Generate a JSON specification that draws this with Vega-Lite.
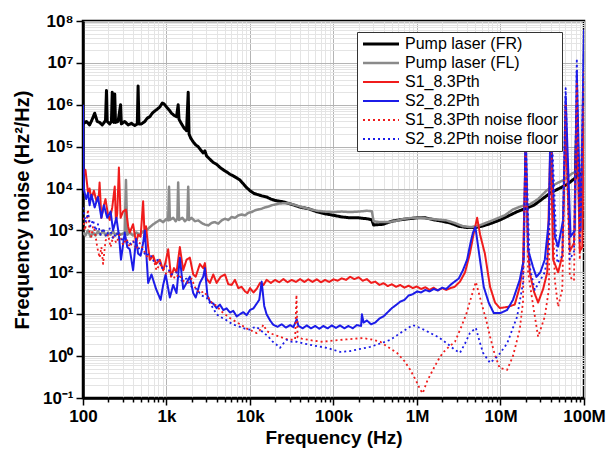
{
"$schema":"https://vega.github.io/schema/vega-lite/v6.json",
"width":501,"height":377,
"autosize":{"type":"none"},
"padding":{"left":83,"top":21,"right":24,"bottom":57},
"background":"white",
"config":{
 "view":{"stroke":"#000","strokeWidth":2.5},
 "font":"Liberation Sans",
 "legend":{"orient":"none","legendX":274,"legendY":11,"fillColor":"#fff","strokeColor":"#333","padding":4,"labelFont":"Liberation Sans","labelFontSize":16,"labelColor":"#000","symbolType":"M-1,0H5","symbolSize":144,"labelLimit":160,"rowPadding":3,"labelOffset":28}
},
"datasets":{"d":[
{"s":"Pump laser (FR)","f":100,"v":3.5e5},{"s":"Pump laser (FR)","f":110,"v":4.0e5},{"s":"Pump laser (FR)","f":120,"v":3.3e5},{"s":"Pump laser (FR)","f":129,"v":4.5e5},{"s":"Pump laser (FR)","f":138,"v":6.3e5},{"s":"Pump laser (FR)","f":148,"v":4.0e5},{"s":"Pump laser (FR)","f":158,"v":3.8e5},{"s":"Pump laser (FR)","f":170,"v":3.3e5},{"s":"Pump laser (FR)","f":186,"v":4.2e5},{"s":"Pump laser (FR)","f":191,"v":2.2e6},{"s":"Pump laser (FR)","f":195,"v":4.0e5},{"s":"Pump laser (FR)","f":209,"v":3.5e5},{"s":"Pump laser (FR)","f":219,"v":4.0e5},{"s":"Pump laser (FR)","f":224,"v":2.0e6},{"s":"Pump laser (FR)","f":229,"v":4.0e5},{"s":"Pump laser (FR)","f":234,"v":3.8e5},{"s":"Pump laser (FR)","f":240,"v":1.8e6},{"s":"Pump laser (FR)","f":245,"v":3.8e5},{"s":"Pump laser (FR)","f":263,"v":4.0e5},{"s":"Pump laser (FR)","f":282,"v":1.0e6},{"s":"Pump laser (FR)","f":288,"v":3.5e5},{"s":"Pump laser (FR)","f":316,"v":4.0e5},{"s":"Pump laser (FR)","f":347,"v":3.3e5},{"s":"Pump laser (FR)","f":380,"v":3.6e5},{"s":"Pump laser (FR)","f":417,"v":3.2e5},{"s":"Pump laser (FR)","f":447,"v":3.5e5},{"s":"Pump laser (FR)","f":457,"v":2.8e6},{"s":"Pump laser (FR)","f":468,"v":3.5e5},{"s":"Pump laser (FR)","f":501,"v":3.5e5},{"s":"Pump laser (FR)","f":550,"v":4.0e5},{"s":"Pump laser (FR)","f":589,"v":4.8e5},{"s":"Pump laser (FR)","f":631,"v":5.2e5},{"s":"Pump laser (FR)","f":676,"v":6.3e5},{"s":"Pump laser (FR)","f":724,"v":7.1e5},{"s":"Pump laser (FR)","f":776,"v":7.9e5},{"s":"Pump laser (FR)","f":832,"v":8.9e5},{"s":"Pump laser (FR)","f":891,"v":1.1e6},{"s":"Pump laser (FR)","f":933,"v":1.05e6},{"s":"Pump laser (FR)","f":1000,"v":8.9e5},{"s":"Pump laser (FR)","f":1072,"v":7.6e5},{"s":"Pump laser (FR)","f":1148,"v":6.3e5},{"s":"Pump laser (FR)","f":1230,"v":5.6e5},{"s":"Pump laser (FR)","f":1318,"v":5.2e5},{"s":"Pump laser (FR)","f":1380,"v":1.0e6},{"s":"Pump laser (FR)","f":1413,"v":4.5e5},{"s":"Pump laser (FR)","f":1514,"v":3.5e5},{"s":"Pump laser (FR)","f":1622,"v":2.8e5},{"s":"Pump laser (FR)","f":1738,"v":2.4e5},{"s":"Pump laser (FR)","f":1820,"v":2.0e6},{"s":"Pump laser (FR)","f":1862,"v":2.0e5},{"s":"Pump laser (FR)","f":1950,"v":1.6e5},{"s":"Pump laser (FR)","f":2089,"v":1.3e5},{"s":"Pump laser (FR)","f":2239,"v":1.1e5},{"s":"Pump laser (FR)","f":2399,"v":1.0e5},{"s":"Pump laser (FR)","f":2570,"v":8.3e4},{"s":"Pump laser (FR)","f":2754,"v":7.1e4},{"s":"Pump laser (FR)","f":2884,"v":7.9e4},{"s":"Pump laser (FR)","f":3020,"v":6.0e4},{"s":"Pump laser (FR)","f":3311,"v":5.0e4},{"s":"Pump laser (FR)","f":3631,"v":4.2e4},{"s":"Pump laser (FR)","f":3981,"v":3.8e4},{"s":"Pump laser (FR)","f":4365,"v":3.2e4},{"s":"Pump laser (FR)","f":4786,"v":2.8e4},{"s":"Pump laser (FR)","f":5248,"v":2.5e4},{"s":"Pump laser (FR)","f":5754,"v":2.2e4},{"s":"Pump laser (FR)","f":6310,"v":2.0e4},{"s":"Pump laser (FR)","f":6918,"v":1.8e4},{"s":"Pump laser (FR)","f":7586,"v":1.6e4},{"s":"Pump laser (FR)","f":8318,"v":1.3e4},{"s":"Pump laser (FR)","f":9120,"v":1.05e4},{"s":"Pump laser (FR)","f":1e4,"v":8900},{"s":"Pump laser (FR)","f":1.12e4,"v":7600},{"s":"Pump laser (FR)","f":1.26e4,"v":7100},{"s":"Pump laser (FR)","f":1.41e4,"v":6600},{"s":"Pump laser (FR)","f":1.58e4,"v":6300},{"s":"Pump laser (FR)","f":1.78e4,"v":5600},{"s":"Pump laser (FR)","f":2.0e4,"v":5200},{"s":"Pump laser (FR)","f":2.24e4,"v":5000},{"s":"Pump laser (FR)","f":2.51e4,"v":4800},{"s":"Pump laser (FR)","f":3.16e4,"v":4200},{"s":"Pump laser (FR)","f":3.98e4,"v":3600},{"s":"Pump laser (FR)","f":5.0e4,"v":3300},{"s":"Pump laser (FR)","f":6.3e4,"v":2800},{"s":"Pump laser (FR)","f":7.9e4,"v":2500},{"s":"Pump laser (FR)","f":1e5,"v":2300},{"s":"Pump laser (FR)","f":1.26e5,"v":2100},{"s":"Pump laser (FR)","f":1.58e5,"v":2000},{"s":"Pump laser (FR)","f":2.0e5,"v":2000},{"s":"Pump laser (FR)","f":2.51e5,"v":1900},{"s":"Pump laser (FR)","f":2.88e5,"v":1800},{"s":"Pump laser (FR)","f":3.02e5,"v":1350},{"s":"Pump laser (FR)","f":3.89e5,"v":1400},{"s":"Pump laser (FR)","f":5.0e5,"v":1660},{"s":"Pump laser (FR)","f":6.3e5,"v":1800},{"s":"Pump laser (FR)","f":7.9e5,"v":1900},{"s":"Pump laser (FR)","f":1e6,"v":2000},{"s":"Pump laser (FR)","f":1.26e6,"v":2000},{"s":"Pump laser (FR)","f":1.58e6,"v":1800},{"s":"Pump laser (FR)","f":2.0e6,"v":1660},{"s":"Pump laser (FR)","f":2.51e6,"v":1500},{"s":"Pump laser (FR)","f":3.16e6,"v":1260},{"s":"Pump laser (FR)","f":3.98e6,"v":1170},{"s":"Pump laser (FR)","f":5.0e6,"v":1170},{"s":"Pump laser (FR)","f":6.3e6,"v":1300},{"s":"Pump laser (FR)","f":7.9e6,"v":1500},{"s":"Pump laser (FR)","f":1e7,"v":1800},{"s":"Pump laser (FR)","f":1.58e7,"v":2800},{"s":"Pump laser (FR)","f":2.51e7,"v":4000},{"s":"Pump laser (FR)","f":3.98e7,"v":7900},{"s":"Pump laser (FR)","f":6.3e7,"v":1.26e4},{"s":"Pump laser (FR)","f":7.9e7,"v":1.8e4},{"s":"Pump laser (FR)","f":8.2e7,"v":5.0e5},{"s":"Pump laser (FR)","f":8.5e7,"v":2.0e4},{"s":"Pump laser (FR)","f":1e8,"v":2.5e4},
{"s":"Pump laser (FL)","f":100,"v":890},{"s":"Pump laser (FL)","f":107,"v":760},{"s":"Pump laser (FL)","f":115,"v":1000},{"s":"Pump laser (FL)","f":123,"v":710},{"s":"Pump laser (FL)","f":132,"v":890},{"s":"Pump laser (FL)","f":141,"v":760},{"s":"Pump laser (FL)","f":151,"v":950},{"s":"Pump laser (FL)","f":162,"v":790},{"s":"Pump laser (FL)","f":174,"v":1000},{"s":"Pump laser (FL)","f":186,"v":760},{"s":"Pump laser (FL)","f":200,"v":890},{"s":"Pump laser (FL)","f":214,"v":790},{"s":"Pump laser (FL)","f":229,"v":950},{"s":"Pump laser (FL)","f":245,"v":760},{"s":"Pump laser (FL)","f":263,"v":890},{"s":"Pump laser (FL)","f":282,"v":790},{"s":"Pump laser (FL)","f":316,"v":890},{"s":"Pump laser (FL)","f":327,"v":1.6e4},{"s":"Pump laser (FL)","f":339,"v":790},{"s":"Pump laser (FL)","f":363,"v":890},{"s":"Pump laser (FL)","f":398,"v":760},{"s":"Pump laser (FL)","f":437,"v":890},{"s":"Pump laser (FL)","f":479,"v":790},{"s":"Pump laser (FL)","f":525,"v":950},{"s":"Pump laser (FL)","f":575,"v":1000},{"s":"Pump laser (FL)","f":631,"v":1200},{"s":"Pump laser (FL)","f":692,"v":1400},{"s":"Pump laser (FL)","f":759,"v":1580},{"s":"Pump laser (FL)","f":832,"v":1780},{"s":"Pump laser (FL)","f":912,"v":1580},{"s":"Pump laser (FL)","f":1000,"v":1900},{"s":"Pump laser (FL)","f":1047,"v":1740},{"s":"Pump laser (FL)","f":1072,"v":1.1e4},{"s":"Pump laser (FL)","f":1096,"v":1780},{"s":"Pump laser (FL)","f":1202,"v":2000},{"s":"Pump laser (FL)","f":1288,"v":1660},{"s":"Pump laser (FL)","f":1349,"v":1900},{"s":"Pump laser (FL)","f":1380,"v":1.4e4},{"s":"Pump laser (FL)","f":1413,"v":1780},{"s":"Pump laser (FL)","f":1549,"v":2000},{"s":"Pump laser (FL)","f":1660,"v":1660},{"s":"Pump laser (FL)","f":1778,"v":1860},{"s":"Pump laser (FL)","f":1820,"v":1.1e4},{"s":"Pump laser (FL)","f":1862,"v":1780},{"s":"Pump laser (FL)","f":1995,"v":2000},{"s":"Pump laser (FL)","f":2188,"v":1660},{"s":"Pump laser (FL)","f":2399,"v":1740},{"s":"Pump laser (FL)","f":2630,"v":1510},{"s":"Pump laser (FL)","f":2884,"v":1380},{"s":"Pump laser (FL)","f":3162,"v":1320},{"s":"Pump laser (FL)","f":3467,"v":1510},{"s":"Pump laser (FL)","f":3802,"v":1580},{"s":"Pump laser (FL)","f":4169,"v":1450},{"s":"Pump laser (FL)","f":4571,"v":1740},{"s":"Pump laser (FL)","f":5012,"v":1900},{"s":"Pump laser (FL)","f":5495,"v":1780},{"s":"Pump laser (FL)","f":6026,"v":2090},{"s":"Pump laser (FL)","f":6607,"v":2000},{"s":"Pump laser (FL)","f":7244,"v":2290},{"s":"Pump laser (FL)","f":7943,"v":2400},{"s":"Pump laser (FL)","f":8710,"v":2290},{"s":"Pump laser (FL)","f":9550,"v":2630},{"s":"Pump laser (FL)","f":1.05e4,"v":2750},{"s":"Pump laser (FL)","f":1.15e4,"v":3020},{"s":"Pump laser (FL)","f":1.26e4,"v":3160},{"s":"Pump laser (FL)","f":1.38e4,"v":3310},{"s":"Pump laser (FL)","f":1.51e4,"v":3550},{"s":"Pump laser (FL)","f":1.66e4,"v":3720},{"s":"Pump laser (FL)","f":1.82e4,"v":3980},{"s":"Pump laser (FL)","f":2.0e4,"v":4170},{"s":"Pump laser (FL)","f":2.24e4,"v":4370},{"s":"Pump laser (FL)","f":2.51e4,"v":4470},{"s":"Pump laser (FL)","f":2.82e4,"v":4470},{"s":"Pump laser (FL)","f":3.16e4,"v":4270},{"s":"Pump laser (FL)","f":3.55e4,"v":3980},{"s":"Pump laser (FL)","f":3.98e4,"v":3720},{"s":"Pump laser (FL)","f":5.0e4,"v":3310},{"s":"Pump laser (FL)","f":6.3e4,"v":2950},{"s":"Pump laser (FL)","f":7.9e4,"v":2820},{"s":"Pump laser (FL)","f":1e5,"v":2750},{"s":"Pump laser (FL)","f":1.26e5,"v":2820},{"s":"Pump laser (FL)","f":1.58e5,"v":2750},{"s":"Pump laser (FL)","f":2.0e5,"v":2820},{"s":"Pump laser (FL)","f":2.51e5,"v":2950},{"s":"Pump laser (FL)","f":2.88e5,"v":2880},{"s":"Pump laser (FL)","f":3.02e5,"v":1660},{"s":"Pump laser (FL)","f":3.55e5,"v":1580},{"s":"Pump laser (FL)","f":4.47e5,"v":1580},{"s":"Pump laser (FL)","f":5.62e5,"v":1700},{"s":"Pump laser (FL)","f":7.08e5,"v":1900},{"s":"Pump laser (FL)","f":8.9e5,"v":2000},{"s":"Pump laser (FL)","f":1.12e6,"v":2000},{"s":"Pump laser (FL)","f":1.41e6,"v":1900},{"s":"Pump laser (FL)","f":1.78e6,"v":1820},{"s":"Pump laser (FL)","f":2.24e6,"v":1740},{"s":"Pump laser (FL)","f":2.82e6,"v":1510},{"s":"Pump laser (FL)","f":3.55e6,"v":1260},{"s":"Pump laser (FL)","f":4.47e6,"v":1200},{"s":"Pump laser (FL)","f":5.62e6,"v":1320},{"s":"Pump laser (FL)","f":7.08e6,"v":1580},{"s":"Pump laser (FL)","f":8.9e6,"v":1900},{"s":"Pump laser (FL)","f":1.12e7,"v":2290},{"s":"Pump laser (FL)","f":1.41e7,"v":3160},{"s":"Pump laser (FL)","f":1.78e7,"v":3800},{"s":"Pump laser (FL)","f":2.24e7,"v":4170},{"s":"Pump laser (FL)","f":2.82e7,"v":5620},{"s":"Pump laser (FL)","f":3.55e7,"v":8900},{"s":"Pump laser (FL)","f":4.47e7,"v":1.26e4},{"s":"Pump laser (FL)","f":5.62e7,"v":1.58e4},{"s":"Pump laser (FL)","f":7.08e7,"v":2.24e4},{"s":"Pump laser (FL)","f":8.9e7,"v":2.82e4},{"s":"Pump laser (FL)","f":1e8,"v":3.16e4},
{"s":"S1_8.3Pth","f":100,"v":2.0e4},{"s":"S1_8.3Pth","f":107,"v":2.8e4},{"s":"S1_8.3Pth","f":115,"v":7900},{"s":"S1_8.3Pth","f":120,"v":1.0e4},{"s":"S1_8.3Pth","f":126,"v":5600},{"s":"S1_8.3Pth","f":135,"v":8900},{"s":"S1_8.3Pth","f":145,"v":5000},{"s":"S1_8.3Pth","f":155,"v":7100},{"s":"S1_8.3Pth","f":158,"v":1.4e4},{"s":"S1_8.3Pth","f":166,"v":2000},{"s":"S1_8.3Pth","f":178,"v":4000},{"s":"S1_8.3Pth","f":186,"v":5600},{"s":"S1_8.3Pth","f":200,"v":2240},{"s":"S1_8.3Pth","f":209,"v":1780},{"s":"S1_8.3Pth","f":224,"v":3550},{"s":"S1_8.3Pth","f":240,"v":1.12e4},{"s":"S1_8.3Pth","f":248,"v":1580},{"s":"S1_8.3Pth","f":257,"v":2510},{"s":"S1_8.3Pth","f":269,"v":3.16e4},{"s":"S1_8.3Pth","f":282,"v":2000},{"s":"S1_8.3Pth","f":302,"v":2820},{"s":"S1_8.3Pth","f":327,"v":3160},{"s":"S1_8.3Pth","f":347,"v":1260},{"s":"S1_8.3Pth","f":363,"v":890},{"s":"S1_8.3Pth","f":398,"v":1410},{"s":"S1_8.3Pth","f":432,"v":500},{"s":"S1_8.3Pth","f":457,"v":790},{"s":"S1_8.3Pth","f":490,"v":710},{"s":"S1_8.3Pth","f":525,"v":5000},{"s":"S1_8.3Pth","f":550,"v":560},{"s":"S1_8.3Pth","f":569,"v":1260},{"s":"S1_8.3Pth","f":603,"v":400},{"s":"S1_8.3Pth","f":631,"v":200},{"s":"S1_8.3Pth","f":692,"v":250},{"s":"S1_8.3Pth","f":750,"v":158},{"s":"S1_8.3Pth","f":832,"v":200},{"s":"S1_8.3Pth","f":912,"v":112},{"s":"S1_8.3Pth","f":977,"v":178},{"s":"S1_8.3Pth","f":1047,"v":355},{"s":"S1_8.3Pth","f":1135,"v":79},{"s":"S1_8.3Pth","f":1230,"v":126},{"s":"S1_8.3Pth","f":1318,"v":100},{"s":"S1_8.3Pth","f":1445,"v":400},{"s":"S1_8.3Pth","f":1585,"v":112},{"s":"S1_8.3Pth","f":1738,"v":200},{"s":"S1_8.3Pth","f":1905,"v":224},{"s":"S1_8.3Pth","f":2089,"v":89},{"s":"S1_8.3Pth","f":2239,"v":79},{"s":"S1_8.3Pth","f":2512,"v":158},{"s":"S1_8.3Pth","f":2754,"v":126},{"s":"S1_8.3Pth","f":2884,"v":166},{"s":"S1_8.3Pth","f":3020,"v":71},{"s":"S1_8.3Pth","f":3311,"v":56},{"s":"S1_8.3Pth","f":3631,"v":89},{"s":"S1_8.3Pth","f":3981,"v":56},{"s":"S1_8.3Pth","f":4467,"v":79},{"s":"S1_8.3Pth","f":5012,"v":89},{"s":"S1_8.3Pth","f":5495,"v":52},{"s":"S1_8.3Pth","f":6026,"v":50},{"s":"S1_8.3Pth","f":6607,"v":66},{"s":"S1_8.3Pth","f":7244,"v":42},{"s":"S1_8.3Pth","f":7943,"v":45},{"s":"S1_8.3Pth","f":8710,"v":35},{"s":"S1_8.3Pth","f":9333,"v":32},{"s":"S1_8.3Pth","f":1e4,"v":42},{"s":"S1_8.3Pth","f":1.1e4,"v":33},{"s":"S1_8.3Pth","f":1.2e4,"v":40},{"s":"S1_8.3Pth","f":1.32e4,"v":56},{"s":"S1_8.3Pth","f":1.45e4,"v":50},{"s":"S1_8.3Pth","f":1.58e4,"v":66},{"s":"S1_8.3Pth","f":1.78e4,"v":56},{"s":"S1_8.3Pth","f":2.0e4,"v":66},{"s":"S1_8.3Pth","f":2.24e4,"v":58},{"s":"S1_8.3Pth","f":2.51e4,"v":69},{"s":"S1_8.3Pth","f":2.82e4,"v":58},{"s":"S1_8.3Pth","f":3.16e4,"v":66},{"s":"S1_8.3Pth","f":3.55e4,"v":59},{"s":"S1_8.3Pth","f":3.98e4,"v":69},{"s":"S1_8.3Pth","f":4.47e4,"v":59},{"s":"S1_8.3Pth","f":5.0e4,"v":68},{"s":"S1_8.3Pth","f":5.62e4,"v":59},{"s":"S1_8.3Pth","f":6.3e4,"v":68},{"s":"S1_8.3Pth","f":7.08e4,"v":58},{"s":"S1_8.3Pth","f":7.9e4,"v":66},{"s":"S1_8.3Pth","f":8.9e4,"v":59},{"s":"S1_8.3Pth","f":1e5,"v":68},{"s":"S1_8.3Pth","f":1.12e5,"v":63},{"s":"S1_8.3Pth","f":1.26e5,"v":72},{"s":"S1_8.3Pth","f":1.41e5,"v":66},{"s":"S1_8.3Pth","f":1.58e5,"v":78},{"s":"S1_8.3Pth","f":1.78e5,"v":69},{"s":"S1_8.3Pth","f":2.0e5,"v":76},{"s":"S1_8.3Pth","f":2.24e5,"v":63},{"s":"S1_8.3Pth","f":2.51e5,"v":69},{"s":"S1_8.3Pth","f":2.82e5,"v":56},{"s":"S1_8.3Pth","f":3.16e5,"v":60},{"s":"S1_8.3Pth","f":3.55e5,"v":50},{"s":"S1_8.3Pth","f":3.98e5,"v":55},{"s":"S1_8.3Pth","f":4.47e5,"v":47},{"s":"S1_8.3Pth","f":5.0e5,"v":52},{"s":"S1_8.3Pth","f":5.62e5,"v":45},{"s":"S1_8.3Pth","f":6.3e5,"v":50},{"s":"S1_8.3Pth","f":7.08e5,"v":43},{"s":"S1_8.3Pth","f":7.9e5,"v":48},{"s":"S1_8.3Pth","f":8.9e5,"v":42},{"s":"S1_8.3Pth","f":1e6,"v":46},{"s":"S1_8.3Pth","f":1.12e6,"v":40},{"s":"S1_8.3Pth","f":1.26e6,"v":44},{"s":"S1_8.3Pth","f":1.41e6,"v":38},{"s":"S1_8.3Pth","f":1.58e6,"v":43},{"s":"S1_8.3Pth","f":1.78e6,"v":37},{"s":"S1_8.3Pth","f":2.0e6,"v":42},{"s":"S1_8.3Pth","f":2.24e6,"v":38},{"s":"S1_8.3Pth","f":2.51e6,"v":42},{"s":"S1_8.3Pth","f":2.82e6,"v":45},{"s":"S1_8.3Pth","f":3.27e6,"v":60},{"s":"S1_8.3Pth","f":3.76e6,"v":100},{"s":"S1_8.3Pth","f":4.3e6,"v":280},{"s":"S1_8.3Pth","f":4.8e6,"v":890},{"s":"S1_8.3Pth","f":5.25e6,"v":2000},{"s":"S1_8.3Pth","f":5.7e6,"v":790},{"s":"S1_8.3Pth","f":6.5e6,"v":280},{"s":"S1_8.3Pth","f":7.5e6,"v":45},{"s":"S1_8.3Pth","f":8.6e6,"v":19},{"s":"S1_8.3Pth","f":9.8e6,"v":14},{"s":"S1_8.3Pth","f":1.23e7,"v":15},{"s":"S1_8.3Pth","f":1.48e7,"v":17},{"s":"S1_8.3Pth","f":1.7e7,"v":45},{"s":"S1_8.3Pth","f":1.86e7,"v":160},{"s":"S1_8.3Pth","f":2.0e7,"v":1e5},{"s":"S1_8.3Pth","f":2.14e7,"v":400},{"s":"S1_8.3Pth","f":2.24e7,"v":100},{"s":"S1_8.3Pth","f":2.51e7,"v":35},{"s":"S1_8.3Pth","f":2.82e7,"v":19},{"s":"S1_8.3Pth","f":3.24e7,"v":40},{"s":"S1_8.3Pth","f":3.63e7,"v":100},{"s":"S1_8.3Pth","f":3.98e7,"v":2e5},{"s":"S1_8.3Pth","f":4.27e7,"v":200},{"s":"S1_8.3Pth","f":4.9e7,"v":100},{"s":"S1_8.3Pth","f":5.5e7,"v":250},{"s":"S1_8.3Pth","f":6.03e7,"v":3.2e5},{"s":"S1_8.3Pth","f":6.76e7,"v":320},{"s":"S1_8.3Pth","f":7.59e7,"v":500},{"s":"S1_8.3Pth","f":8.2e7,"v":7.9e5},{"s":"S1_8.3Pth","f":8.9e7,"v":320},{"s":"S1_8.3Pth","f":9.55e7,"v":400},{"s":"S1_8.3Pth","f":1e8,"v":1e6},
{"s":"S2_8.2Pth","f":100,"v":1e6},{"s":"S2_8.2Pth","f":102,"v":1e4},{"s":"S2_8.2Pth","f":109,"v":5600},{"s":"S2_8.2Pth","f":115,"v":7900},{"s":"S2_8.2Pth","f":120,"v":4000},{"s":"S2_8.2Pth","f":126,"v":7100},{"s":"S2_8.2Pth","f":138,"v":3550},{"s":"S2_8.2Pth","f":151,"v":6300},{"s":"S2_8.2Pth","f":166,"v":2000},{"s":"S2_8.2Pth","f":178,"v":4000},{"s":"S2_8.2Pth","f":195,"v":2000},{"s":"S2_8.2Pth","f":214,"v":2820},{"s":"S2_8.2Pth","f":229,"v":1000},{"s":"S2_8.2Pth","f":251,"v":2000},{"s":"S2_8.2Pth","f":269,"v":790},{"s":"S2_8.2Pth","f":285,"v":200},{"s":"S2_8.2Pth","f":316,"v":890},{"s":"S2_8.2Pth","f":339,"v":400},{"s":"S2_8.2Pth","f":363,"v":355},{"s":"S2_8.2Pth","f":398,"v":112},{"s":"S2_8.2Pth","f":432,"v":630},{"s":"S2_8.2Pth","f":457,"v":280},{"s":"S2_8.2Pth","f":490,"v":250},{"s":"S2_8.2Pth","f":525,"v":500},{"s":"S2_8.2Pth","f":550,"v":1000},{"s":"S2_8.2Pth","f":603,"v":56},{"s":"S2_8.2Pth","f":661,"v":89},{"s":"S2_8.2Pth","f":750,"v":40},{"s":"S2_8.2Pth","f":851,"v":22},{"s":"S2_8.2Pth","f":912,"v":50},{"s":"S2_8.2Pth","f":977,"v":89},{"s":"S2_8.2Pth","f":1096,"v":25},{"s":"S2_8.2Pth","f":1202,"v":50},{"s":"S2_8.2Pth","f":1318,"v":32},{"s":"S2_8.2Pth","f":1445,"v":224},{"s":"S2_8.2Pth","f":1585,"v":40},{"s":"S2_8.2Pth","f":1738,"v":56},{"s":"S2_8.2Pth","f":1905,"v":79},{"s":"S2_8.2Pth","f":2089,"v":32},{"s":"S2_8.2Pth","f":2239,"v":25},{"s":"S2_8.2Pth","f":2512,"v":56},{"s":"S2_8.2Pth","f":2754,"v":79},{"s":"S2_8.2Pth","f":2884,"v":126},{"s":"S2_8.2Pth","f":3090,"v":28},{"s":"S2_8.2Pth","f":3311,"v":20},{"s":"S2_8.2Pth","f":3631,"v":18},{"s":"S2_8.2Pth","f":3981,"v":14},{"s":"S2_8.2Pth","f":4365,"v":17},{"s":"S2_8.2Pth","f":4786,"v":12.6},{"s":"S2_8.2Pth","f":5248,"v":13.8},{"s":"S2_8.2Pth","f":5754,"v":11},{"s":"S2_8.2Pth","f":6310,"v":12},{"s":"S2_8.2Pth","f":6918,"v":8.9},{"s":"S2_8.2Pth","f":7586,"v":10},{"s":"S2_8.2Pth","f":8318,"v":11.2},{"s":"S2_8.2Pth","f":9120,"v":9.5},{"s":"S2_8.2Pth","f":1e4,"v":12.6},{"s":"S2_8.2Pth","f":1.1e4,"v":13.8},{"s":"S2_8.2Pth","f":1.2e4,"v":17.8},{"s":"S2_8.2Pth","f":1.29e4,"v":22},{"s":"S2_8.2Pth","f":1.38e4,"v":60},{"s":"S2_8.2Pth","f":1.48e4,"v":15.8},{"s":"S2_8.2Pth","f":1.58e4,"v":10},{"s":"S2_8.2Pth","f":1.74e4,"v":7.1},{"s":"S2_8.2Pth","f":1.9e4,"v":5.6},{"s":"S2_8.2Pth","f":2.14e4,"v":5.0},{"s":"S2_8.2Pth","f":2.4e4,"v":5.75},{"s":"S2_8.2Pth","f":2.69e4,"v":4.8},{"s":"S2_8.2Pth","f":3.02e4,"v":5.5},{"s":"S2_8.2Pth","f":3.31e4,"v":4.9},{"s":"S2_8.2Pth","f":3.63e4,"v":7.6},{"s":"S2_8.2Pth","f":3.8e4,"v":5.25},{"s":"S2_8.2Pth","f":4.27e4,"v":4.6},{"s":"S2_8.2Pth","f":4.79e4,"v":5.4},{"s":"S2_8.2Pth","f":5.37e4,"v":4.6},{"s":"S2_8.2Pth","f":6.03e4,"v":5.25},{"s":"S2_8.2Pth","f":6.76e4,"v":4.5},{"s":"S2_8.2Pth","f":7.59e4,"v":5.25},{"s":"S2_8.2Pth","f":8.51e4,"v":4.6},{"s":"S2_8.2Pth","f":9.55e4,"v":5.4},{"s":"S2_8.2Pth","f":1.07e5,"v":4.7},{"s":"S2_8.2Pth","f":1.2e5,"v":5.4},{"s":"S2_8.2Pth","f":1.35e5,"v":4.6},{"s":"S2_8.2Pth","f":1.51e5,"v":5.25},{"s":"S2_8.2Pth","f":1.7e5,"v":4.6},{"s":"S2_8.2Pth","f":1.9e5,"v":5.5},{"s":"S2_8.2Pth","f":2.14e5,"v":5.25},{"s":"S2_8.2Pth","f":2.19e5,"v":10},{"s":"S2_8.2Pth","f":2.29e5,"v":6.3},{"s":"S2_8.2Pth","f":2.51e5,"v":7.1},{"s":"S2_8.2Pth","f":2.82e5,"v":5.75},{"s":"S2_8.2Pth","f":3.16e5,"v":6.3},{"s":"S2_8.2Pth","f":3.55e5,"v":7.9},{"s":"S2_8.2Pth","f":3.98e5,"v":8.9},{"s":"S2_8.2Pth","f":4.47e5,"v":11.2},{"s":"S2_8.2Pth","f":5.0e5,"v":14},{"s":"S2_8.2Pth","f":5.62e5,"v":16.6},{"s":"S2_8.2Pth","f":6.3e5,"v":20},{"s":"S2_8.2Pth","f":7.08e5,"v":22},{"s":"S2_8.2Pth","f":7.94e5,"v":28},{"s":"S2_8.2Pth","f":8.9e5,"v":30},{"s":"S2_8.2Pth","f":1e6,"v":35},{"s":"S2_8.2Pth","f":1.12e6,"v":33},{"s":"S2_8.2Pth","f":1.26e6,"v":38},{"s":"S2_8.2Pth","f":1.41e6,"v":35},{"s":"S2_8.2Pth","f":1.58e6,"v":40},{"s":"S2_8.2Pth","f":1.78e6,"v":37},{"s":"S2_8.2Pth","f":2.0e6,"v":43},{"s":"S2_8.2Pth","f":2.24e6,"v":40},{"s":"S2_8.2Pth","f":2.51e6,"v":50},{"s":"S2_8.2Pth","f":2.82e6,"v":60},{"s":"S2_8.2Pth","f":3.16e6,"v":71},{"s":"S2_8.2Pth","f":3.55e6,"v":112},{"s":"S2_8.2Pth","f":3.98e6,"v":200},{"s":"S2_8.2Pth","f":4.37e6,"v":500},{"s":"S2_8.2Pth","f":4.68e6,"v":890},{"s":"S2_8.2Pth","f":5.0e6,"v":1200},{"s":"S2_8.2Pth","f":5.5e6,"v":316},{"s":"S2_8.2Pth","f":6.3e6,"v":45},{"s":"S2_8.2Pth","f":7.24e6,"v":18.6},{"s":"S2_8.2Pth","f":8.3e6,"v":10.7},{"s":"S2_8.2Pth","f":1e7,"v":10.7},{"s":"S2_8.2Pth","f":1.2e7,"v":12.6},{"s":"S2_8.2Pth","f":1.41e7,"v":22},{"s":"S2_8.2Pth","f":1.7e7,"v":66},{"s":"S2_8.2Pth","f":1.9e7,"v":200},{"s":"S2_8.2Pth","f":2.0e7,"v":3.2e5},{"s":"S2_8.2Pth","f":2.14e7,"v":340},{"s":"S2_8.2Pth","f":2.45e7,"v":135},{"s":"S2_8.2Pth","f":2.69e7,"v":78},{"s":"S2_8.2Pth","f":3.0e7,"v":100},{"s":"S2_8.2Pth","f":3.39e7,"v":200},{"s":"S2_8.2Pth","f":3.8e7,"v":1780},{"s":"S2_8.2Pth","f":3.98e7,"v":6.3e5},{"s":"S2_8.2Pth","f":4.47e7,"v":710},{"s":"S2_8.2Pth","f":4.9e7,"v":410},{"s":"S2_8.2Pth","f":5.62e7,"v":1780},{"s":"S2_8.2Pth","f":6.03e7,"v":1.6e6},{"s":"S2_8.2Pth","f":6.9e7,"v":710},{"s":"S2_8.2Pth","f":7.76e7,"v":1000},{"s":"S2_8.2Pth","f":8.2e7,"v":6.3e6},{"s":"S2_8.2Pth","f":9.1e7,"v":1000},{"s":"S2_8.2Pth","f":1e8,"v":6.3e7},
{"s":"S1_8.3Pth noise floor","f":100,"v":2000},{"s":"S1_8.3Pth noise floor","f":105,"v":1000},{"s":"S1_8.3Pth noise floor","f":109,"v":1410},{"s":"S1_8.3Pth noise floor","f":115,"v":3160},{"s":"S1_8.3Pth noise floor","f":120,"v":890},{"s":"S1_8.3Pth noise floor","f":126,"v":710},{"s":"S1_8.3Pth noise floor","f":132,"v":1260},{"s":"S1_8.3Pth noise floor","f":138,"v":1000},{"s":"S1_8.3Pth noise floor","f":148,"v":400},{"s":"S1_8.3Pth noise floor","f":158,"v":224},{"s":"S1_8.3Pth noise floor","f":166,"v":400},{"s":"S1_8.3Pth noise floor","f":174,"v":158},{"s":"S1_8.3Pth noise floor","f":186,"v":560},{"s":"S1_8.3Pth noise floor","f":200,"v":790},{"s":"S1_8.3Pth noise floor","f":214,"v":400},{"s":"S1_8.3Pth noise floor","f":229,"v":710},{"s":"S1_8.3Pth noise floor","f":251,"v":500},{"s":"S1_8.3Pth noise floor","f":275,"v":790},{"s":"S1_8.3Pth noise floor","f":302,"v":450},{"s":"S1_8.3Pth noise floor","f":331,"v":630},{"s":"S1_8.3Pth noise floor","f":363,"v":400},{"s":"S1_8.3Pth noise floor","f":398,"v":560},{"s":"S1_8.3Pth noise floor","f":437,"v":355},{"s":"S1_8.3Pth noise floor","f":479,"v":500},{"s":"S1_8.3Pth noise floor","f":525,"v":355},{"s":"S1_8.3Pth noise floor","f":575,"v":251},{"s":"S1_8.3Pth noise floor","f":631,"v":200},{"s":"S1_8.3Pth noise floor","f":692,"v":224},{"s":"S1_8.3Pth noise floor","f":759,"v":112},{"s":"S1_8.3Pth noise floor","f":832,"v":158},{"s":"S1_8.3Pth noise floor","f":912,"v":126},{"s":"S1_8.3Pth noise floor","f":1000,"v":89},{"s":"S1_8.3Pth noise floor","f":1122,"v":112},{"s":"S1_8.3Pth noise floor","f":1259,"v":71},{"s":"S1_8.3Pth noise floor","f":1413,"v":89},{"s":"S1_8.3Pth noise floor","f":1585,"v":63},{"s":"S1_8.3Pth noise floor","f":1778,"v":56},{"s":"S1_8.3Pth noise floor","f":1995,"v":71},{"s":"S1_8.3Pth noise floor","f":2239,"v":40},{"s":"S1_8.3Pth noise floor","f":2512,"v":32},{"s":"S1_8.3Pth noise floor","f":2818,"v":35},{"s":"S1_8.3Pth noise floor","f":3162,"v":25},{"s":"S1_8.3Pth noise floor","f":3548,"v":18},{"s":"S1_8.3Pth noise floor","f":3981,"v":16},{"s":"S1_8.3Pth noise floor","f":4467,"v":12},{"s":"S1_8.3Pth noise floor","f":5012,"v":10},{"s":"S1_8.3Pth noise floor","f":5623,"v":8.3},{"s":"S1_8.3Pth noise floor","f":6310,"v":7.2},{"s":"S1_8.3Pth noise floor","f":7079,"v":6.3},{"s":"S1_8.3Pth noise floor","f":7943,"v":5.5},{"s":"S1_8.3Pth noise floor","f":8913,"v":4.6},{"s":"S1_8.3Pth noise floor","f":1e4,"v":4.3},{"s":"S1_8.3Pth noise floor","f":1.1e4,"v":3.8},{"s":"S1_8.3Pth noise floor","f":1.2e4,"v":3.55},{"s":"S1_8.3Pth noise floor","f":1.32e4,"v":4.2},{"s":"S1_8.3Pth noise floor","f":1.45e4,"v":5.6},{"s":"S1_8.3Pth noise floor","f":1.58e4,"v":4.0},{"s":"S1_8.3Pth noise floor","f":1.74e4,"v":3.55},{"s":"S1_8.3Pth noise floor","f":2.0e4,"v":3.16},{"s":"S1_8.3Pth noise floor","f":2.29e4,"v":2.9},{"s":"S1_8.3Pth noise floor","f":2.63e4,"v":2.6},{"s":"S1_8.3Pth noise floor","f":3.02e4,"v":2.45},{"s":"S1_8.3Pth noise floor","f":3.47e4,"v":2.5},{"s":"S1_8.3Pth noise floor","f":3.6e4,"v":29},{"s":"S1_8.3Pth noise floor","f":3.72e4,"v":2.8},{"s":"S1_8.3Pth noise floor","f":4.17e4,"v":2.6},{"s":"S1_8.3Pth noise floor","f":5.0e4,"v":2.45},{"s":"S1_8.3Pth noise floor","f":6.03e4,"v":2.3},{"s":"S1_8.3Pth noise floor","f":7.41e4,"v":2.2},{"s":"S1_8.3Pth noise floor","f":9.1e4,"v":2.3},{"s":"S1_8.3Pth noise floor","f":1.12e5,"v":2.4},{"s":"S1_8.3Pth noise floor","f":1.41e5,"v":2.5},{"s":"S1_8.3Pth noise floor","f":1.78e5,"v":2.6},{"s":"S1_8.3Pth noise floor","f":2.24e5,"v":2.7},{"s":"S1_8.3Pth noise floor","f":2.82e5,"v":2.5},{"s":"S1_8.3Pth noise floor","f":3.63e5,"v":2.2},{"s":"S1_8.3Pth noise floor","f":4.47e5,"v":1.66},{"s":"S1_8.3Pth noise floor","f":5.75e5,"v":1.2},{"s":"S1_8.3Pth noise floor","f":7.08e5,"v":0.76},{"s":"S1_8.3Pth noise floor","f":8.3e5,"v":0.47},{"s":"S1_8.3Pth noise floor","f":9.55e5,"v":0.28},{"s":"S1_8.3Pth noise floor","f":1.1e6,"v":0.155},{"s":"S1_8.3Pth noise floor","f":1.17e6,"v":0.13},{"s":"S1_8.3Pth noise floor","f":1.32e6,"v":0.25},{"s":"S1_8.3Pth noise floor","f":1.55e6,"v":0.47},{"s":"S1_8.3Pth noise floor","f":1.78e6,"v":0.79},{"s":"S1_8.3Pth noise floor","f":2.04e6,"v":1.2},{"s":"S1_8.3Pth noise floor","f":2.4e6,"v":1.66},{"s":"S1_8.3Pth noise floor","f":2.85e6,"v":2.2},{"s":"S1_8.3Pth noise floor","f":3.39e6,"v":5.0},{"s":"S1_8.3Pth noise floor","f":3.89e6,"v":10},{"s":"S1_8.3Pth noise floor","f":4.3e6,"v":20},{"s":"S1_8.3Pth noise floor","f":5.07e6,"v":59},{"s":"S1_8.3Pth noise floor","f":5.5e6,"v":32},{"s":"S1_8.3Pth noise floor","f":6.03e6,"v":16},{"s":"S1_8.3Pth noise floor","f":6.76e6,"v":7.1},{"s":"S1_8.3Pth noise floor","f":7.5e6,"v":2.9},{"s":"S1_8.3Pth noise floor","f":8.5e6,"v":1.12},{"s":"S1_8.3Pth noise floor","f":9.77e6,"v":0.52},{"s":"S1_8.3Pth noise floor","f":1.2e7,"v":0.47},{"s":"S1_8.3Pth noise floor","f":1.41e7,"v":1.0},{"s":"S1_8.3Pth noise floor","f":1.7e7,"v":4.3},{"s":"S1_8.3Pth noise floor","f":1.86e7,"v":20},{"s":"S1_8.3Pth noise floor","f":2.0e7,"v":1e5},{"s":"S1_8.3Pth noise floor","f":2.14e7,"v":100},{"s":"S1_8.3Pth noise floor","f":2.4e7,"v":22},{"s":"S1_8.3Pth noise floor","f":2.82e7,"v":2.9},{"s":"S1_8.3Pth noise floor","f":3.39e7,"v":8.7},{"s":"S1_8.3Pth noise floor","f":3.8e7,"v":40},{"s":"S1_8.3Pth noise floor","f":3.98e7,"v":4e5},{"s":"S1_8.3Pth noise floor","f":4.47e7,"v":66},{"s":"S1_8.3Pth noise floor","f":4.9e7,"v":15},{"s":"S1_8.3Pth noise floor","f":5.5e7,"v":40},{"s":"S1_8.3Pth noise floor","f":6.03e7,"v":1e6},{"s":"S1_8.3Pth noise floor","f":6.76e7,"v":79},{"s":"S1_8.3Pth noise floor","f":7.59e7,"v":63},{"s":"S1_8.3Pth noise floor","f":8.2e7,"v":3.2e6},{"s":"S1_8.3Pth noise floor","f":8.9e7,"v":200},{"s":"S1_8.3Pth noise floor","f":1e8,"v":6.3e6},
{"s":"S2_8.2Pth noise floor","f":100,"v":3550},{"s":"S2_8.2Pth noise floor","f":107,"v":1580},{"s":"S2_8.2Pth noise floor","f":115,"v":2510},{"s":"S2_8.2Pth noise floor","f":123,"v":1260},{"s":"S2_8.2Pth noise floor","f":132,"v":1780},{"s":"S2_8.2Pth noise floor","f":141,"v":1000},{"s":"S2_8.2Pth noise floor","f":151,"v":1410},{"s":"S2_8.2Pth noise floor","f":162,"v":790},{"s":"S2_8.2Pth noise floor","f":174,"v":1120},{"s":"S2_8.2Pth noise floor","f":191,"v":710},{"s":"S2_8.2Pth noise floor","f":209,"v":1120},{"s":"S2_8.2Pth noise floor","f":229,"v":630},{"s":"S2_8.2Pth noise floor","f":251,"v":890},{"s":"S2_8.2Pth noise floor","f":282,"v":560},{"s":"S2_8.2Pth noise floor","f":316,"v":710},{"s":"S2_8.2Pth noise floor","f":355,"v":450},{"s":"S2_8.2Pth noise floor","f":398,"v":560},{"s":"S2_8.2Pth noise floor","f":447,"v":355},{"s":"S2_8.2Pth noise floor","f":501,"v":400},{"s":"S2_8.2Pth noise floor","f":562,"v":251},{"s":"S2_8.2Pth noise floor","f":631,"v":280},{"s":"S2_8.2Pth noise floor","f":708,"v":178},{"s":"S2_8.2Pth noise floor","f":794,"v":200},{"s":"S2_8.2Pth noise floor","f":891,"v":126},{"s":"S2_8.2Pth noise floor","f":1000,"v":141},{"s":"S2_8.2Pth noise floor","f":1148,"v":89},{"s":"S2_8.2Pth noise floor","f":1318,"v":100},{"s":"S2_8.2Pth noise floor","f":1514,"v":63},{"s":"S2_8.2Pth noise floor","f":1738,"v":71},{"s":"S2_8.2Pth noise floor","f":1995,"v":45},{"s":"S2_8.2Pth noise floor","f":2291,"v":40},{"s":"S2_8.2Pth noise floor","f":2630,"v":28},{"s":"S2_8.2Pth noise floor","f":3020,"v":25},{"s":"S2_8.2Pth noise floor","f":3467,"v":16},{"s":"S2_8.2Pth noise floor","f":3981,"v":10},{"s":"S2_8.2Pth noise floor","f":4365,"v":8.7},{"s":"S2_8.2Pth noise floor","f":5012,"v":7.6},{"s":"S2_8.2Pth noise floor","f":5754,"v":6.3},{"s":"S2_8.2Pth noise floor","f":6607,"v":5.5},{"s":"S2_8.2Pth noise floor","f":7586,"v":5.0},{"s":"S2_8.2Pth noise floor","f":8710,"v":4.5},{"s":"S2_8.2Pth noise floor","f":1e4,"v":4.3},{"s":"S2_8.2Pth noise floor","f":1.1e4,"v":4.8},{"s":"S2_8.2Pth noise floor","f":1.2e4,"v":5.0},{"s":"S2_8.2Pth noise floor","f":1.32e4,"v":4.2},{"s":"S2_8.2Pth noise floor","f":1.48e4,"v":3.55},{"s":"S2_8.2Pth noise floor","f":1.66e4,"v":2.9},{"s":"S2_8.2Pth noise floor","f":1.86e4,"v":2.24},{"s":"S2_8.2Pth noise floor","f":2.09e4,"v":1.86},{"s":"S2_8.2Pth noise floor","f":2.29e4,"v":1.58},{"s":"S2_8.2Pth noise floor","f":2.51e4,"v":2.0},{"s":"S2_8.2Pth noise floor","f":2.75e4,"v":2.45},{"s":"S2_8.2Pth noise floor","f":3.16e4,"v":2.2},{"s":"S2_8.2Pth noise floor","f":3.63e4,"v":2.2},{"s":"S2_8.2Pth noise floor","f":4.37e4,"v":2.0},{"s":"S2_8.2Pth noise floor","f":5.25e4,"v":1.86},{"s":"S2_8.2Pth noise floor","f":6.6e4,"v":1.7},{"s":"S2_8.2Pth noise floor","f":8.3e4,"v":1.58},{"s":"S2_8.2Pth noise floor","f":1e5,"v":1.41},{"s":"S2_8.2Pth noise floor","f":1.2e5,"v":1.26},{"s":"S2_8.2Pth noise floor","f":1.58e5,"v":1.32},{"s":"S2_8.2Pth noise floor","f":2.09e5,"v":1.48},{"s":"S2_8.2Pth noise floor","f":2.75e5,"v":1.66},{"s":"S2_8.2Pth noise floor","f":3.63e5,"v":2.0},{"s":"S2_8.2Pth noise floor","f":4.79e5,"v":2.45},{"s":"S2_8.2Pth noise floor","f":6.3e5,"v":3.55},{"s":"S2_8.2Pth noise floor","f":8.9e5,"v":5.5},{"s":"S2_8.2Pth noise floor","f":1.12e6,"v":4.6},{"s":"S2_8.2Pth noise floor","f":1.45e6,"v":3.55},{"s":"S2_8.2Pth noise floor","f":1.82e6,"v":2.8},{"s":"S2_8.2Pth noise floor","f":2.29e6,"v":2.0},{"s":"S2_8.2Pth noise floor","f":2.85e6,"v":1.41},{"s":"S2_8.2Pth noise floor","f":3.27e6,"v":1.2},{"s":"S2_8.2Pth noise floor","f":3.76e6,"v":2.0},{"s":"S2_8.2Pth noise floor","f":4.3e6,"v":3.55},{"s":"S2_8.2Pth noise floor","f":5.07e6,"v":4.7},{"s":"S2_8.2Pth noise floor","f":5.62e6,"v":2.24},{"s":"S2_8.2Pth noise floor","f":6.17e6,"v":1.2},{"s":"S2_8.2Pth noise floor","f":7.5e6,"v":0.69},{"s":"S2_8.2Pth noise floor","f":9.3e6,"v":1.0},{"s":"S2_8.2Pth noise floor","f":1.2e7,"v":2.0},{"s":"S2_8.2Pth noise floor","f":1.58e7,"v":8.7},{"s":"S2_8.2Pth noise floor","f":1.86e7,"v":56},{"s":"S2_8.2Pth noise floor","f":2.0e7,"v":2e5},{"s":"S2_8.2Pth noise floor","f":2.24e7,"v":135},{"s":"S2_8.2Pth noise floor","f":2.57e7,"v":38},{"s":"S2_8.2Pth noise floor","f":3.39e7,"v":100},{"s":"S2_8.2Pth noise floor","f":3.8e7,"v":400},{"s":"S2_8.2Pth noise floor","f":3.98e7,"v":1e6},{"s":"S2_8.2Pth noise floor","f":4.79e7,"v":166},{"s":"S2_8.2Pth noise floor","f":5.5e7,"v":250},{"s":"S2_8.2Pth noise floor","f":6.03e7,"v":2.5e6},{"s":"S2_8.2Pth noise floor","f":6.76e7,"v":200},{"s":"S2_8.2Pth noise floor","f":7.59e7,"v":316},{"s":"S2_8.2Pth noise floor","f":8.2e7,"v":1.26e7},{"s":"S2_8.2Pth noise floor","f":8.9e7,"v":500},{"s":"S2_8.2Pth noise floor","f":1e8,"v":3.16e7}
]},
"data":{"name":"d"},
"mark":{"type":"line","clip":true,"strokeJoin":"round"},
"encoding":{
 "x":{"field":"f","type":"quantitative","scale":{"type":"log","domain":[100,1e8],"nice":false},
  "axis":{"values":[100,200,300,400,500,600,700,800,900,1000,2000,3000,4000,5000,6000,7000,8000,9000,10000,20000,30000,40000,50000,60000,70000,80000,90000,100000,200000,300000,400000,500000,600000,700000,800000,900000,1000000,2000000,3000000,4000000,5000000,6000000,7000000,8000000,9000000,10000000,20000000,30000000,40000000,50000000,60000000,70000000,80000000,90000000,100000000],
   "format":"~s",
   "labelExpr":"abs(log(datum.value)/LN10-round(log(datum.value)/LN10))<0.01 ? datum.label : ''",
   "labelFontSize":17,"labelFontWeight":"bold","labelColor":"#000","labelPadding":3,"labelOverlap":false,"labelFlush":false,
   "tickColor":"#000","tickWidth":1.5,
   "tickSize":{"condition":{"test":"abs(log(datum.value)/LN10-round(log(datum.value)/LN10))<0.01","value":7},"value":4},
   "domainColor":"#000","domainWidth":2.5,
   "grid":true,
   "gridColor":{"condition":{"test":"abs(log(datum.value)/LN10-round(log(datum.value)/LN10))<0.01","value":"#b4b4b4"},"value":"#e4e4e4"},
   "gridWidth":1,
   "title":"Frequency (Hz)","titleFontSize":19,"titleFontWeight":"bold","titleColor":"#000","titlePadding":4}},
 "y":{"field":"v","type":"quantitative","scale":{"type":"log","domain":[0.1,1e8],"nice":false},
  "axis":{"values":[0.1,0.2,0.3,0.4,0.5,0.6,0.7,0.8,0.9,1,2,3,4,5,6,7,8,9,10,20,30,40,50,60,70,80,90,100,200,300,400,500,600,700,800,900,1000,2000,3000,4000,5000,6000,7000,8000,9000,10000,20000,30000,40000,50000,60000,70000,80000,90000,100000,200000,300000,400000,500000,600000,700000,800000,900000,1000000,2000000,3000000,4000000,5000000,6000000,7000000,8000000,9000000,10000000,20000000,30000000,40000000,50000000,60000000,70000000,80000000,90000000,100000000],
   "labelExpr":"abs(log(datum.value)/LN10-round(log(datum.value)/LN10))<0.01 ? '10' + ['⁻¹','⁰','¹','²','³','⁴','⁵','⁶','⁷','⁸'][round(log(datum.value)/LN10)+1] : ''",
   "labelFontSize":17,"labelFontWeight":"bold","labelColor":"#000","labelPadding":3,"labelOverlap":false,"labelFlush":false,
   "tickColor":"#000","tickWidth":1.5,
   "tickSize":{"condition":{"test":"abs(log(datum.value)/LN10-round(log(datum.value)/LN10))<0.01","value":7},"value":0},
   "domainColor":"#000","domainWidth":2.5,
   "grid":true,
   "gridColor":{"condition":{"test":"abs(log(datum.value)/LN10-round(log(datum.value)/LN10))<0.01","value":"#b4b4b4"},"value":"#e4e4e4"},
   "gridWidth":1,
   "title":"Frequency noise (Hz²/Hz)","titleFontSize":20,"titleFontWeight":"bold","titleColor":"#000","titlePadding":10}},
 "color":{"field":"s","type":"nominal","scale":{"domain":["Pump laser (FR)","Pump laser (FL)","S1_8.3Pth","S2_8.2Pth","S1_8.3Pth noise floor","S2_8.2Pth noise floor"],"range":["#000000","#8a8a8a","#f01c1c","#1c1ce8","#f01c1c","#1c1ce8"]},"legend":{"title":null}},
 "strokeDash":{"field":"s","type":"nominal","scale":{"domain":["Pump laser (FR)","Pump laser (FL)","S1_8.3Pth","S2_8.2Pth","S1_8.3Pth noise floor","S2_8.2Pth noise floor"],"range":[[1,0],[1,0],[1,0],[1,0],[2,3],[2,3]]},"legend":{"title":null}},
 "strokeWidth":{"field":"s","type":"nominal","scale":{"type":"ordinal","domain":["Pump laser (FR)","Pump laser (FL)","S1_8.3Pth","S2_8.2Pth","S1_8.3Pth noise floor","S2_8.2Pth noise floor"],"range":[3,2.5,2,2,1.8,1.8]},"legend":{"title":null}}
}
}
